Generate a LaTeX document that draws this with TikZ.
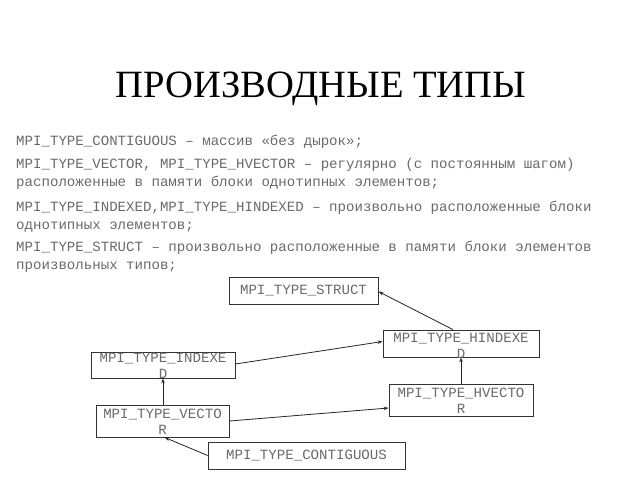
\documentclass[tikz,border=0pt]{standalone}
\usepackage{fontspec}
\setmainfont{Liberation Serif}
\newfontfamily\monof{Liberation Mono}
\usetikzlibrary{arrows.meta}
\definecolor{txtgray}{HTML}{6A6A6A}
\tikzset{
  ttl/.style={font=\fontsize{38.6}{40}\selectfont, text=black, inner sep=0pt, anchor=base},
  body/.style={font=\monof\fontsize{14.1}{16}\selectfont, text=txtgray, inner sep=0pt, anchor=base west},
  tbox/.style={draw=black!80, line width=0.8pt, inner sep=0pt},
  btxt/.style={font=\monof\fontsize{14.1}{16.5}\selectfont, text=txtgray, inner sep=0pt, align=center, anchor=north},
  conn/.style={draw=black!85, line width=0.8pt, -{Stealth[length=5pt,width=3.5pt]}}
}
\begin{document}
\begin{tikzpicture}[x=1pt,y=-1pt]
\useasboundingbox[fill=white] (0,0) rectangle (640,480);
\node[ttl] (title) at (321,97) {ПРОИЗВОДНЫЕ ТИПЫ};
\node[body] (t1) at (16,145) {MPI\_TYPE\_CONTIGUOUS – массив «без дырок»;};
\node[body] (t2) at (16,168) {MPI\_TYPE\_VECTOR, MPI\_TYPE\_HVECTOR – регулярно (с постоянным шагом)};
\node[body] (t3) at (16,186) {расположенные в памяти блоки однотипных элементов;};
\node[body] (t4) at (16,211) {MPI\_TYPE\_INDEXED,MPI\_TYPE\_HINDEXED – произвольно расположенные блоки};
\node[body] (t5) at (16,229) {однотипных элементов;};
\node[body] (t6) at (16,251) {MPI\_TYPE\_STRUCT – произвольно расположенные в памяти блоки элементов};
\node[body] (t7) at (16,269) {произвольных типов;};
% boxes
\node[tbox, minimum width=149pt, minimum height=27pt] (struct) at (303.5,290.5) {};
\node[tbox, minimum width=156pt, minimum height=27pt] (hind) at (461,343.5) {};
\node[tbox, minimum width=144pt, minimum height=26pt] (ind) at (163,365) {};
\node[tbox, minimum width=144pt, minimum height=32pt] (hvec) at (461,400) {};
\node[tbox, minimum width=133pt, minimum height=32pt] (vec) at (162.5,421) {};
\node[tbox, minimum width=197pt, minimum height=27pt] (contig) at (306.5,455.5) {};
% texts
\node[btxt, anchor=center] (structt) at (struct.center) {MPI\_TYPE\_STRUCT};
\node[btxt] (hindt) at ([yshift=-3pt]hind.north) {MPI\_TYPE\_HINDEXE\\D};
\node[btxt] (indt) at ([yshift=-1pt]ind.north) {MPI\_TYPE\_INDEXE\\D};
\node[btxt] (hvect) at ([yshift=-4pt]hvec.north) {MPI\_TYPE\_HVECTO\\R};
\node[btxt] (vect) at ([yshift=-4pt]vec.north) {MPI\_TYPE\_VECTO\\R};
\node[btxt, anchor=center] (contigt) at (contig.center) {MPI\_TYPE\_CONTIGUOUS};
% connectors
\draw[conn] ([xshift=-8pt]hind.north) -- ([yshift=-1pt]struct.east);
\draw[conn] ([yshift=1pt]ind.east) -- ([yshift=2pt]hind.west);
\draw[conn] (vec.north -| ind.south) -- (ind.south);
\draw[conn] (hvec.north) -- (hind.south -| hvec.north);
\draw[conn] (vec.east) -- ([yshift=-8pt]hvec.west);
\draw[conn] (contig.west) -- ([xshift=2pt]vec.south);
\end{tikzpicture}
\end{document}
